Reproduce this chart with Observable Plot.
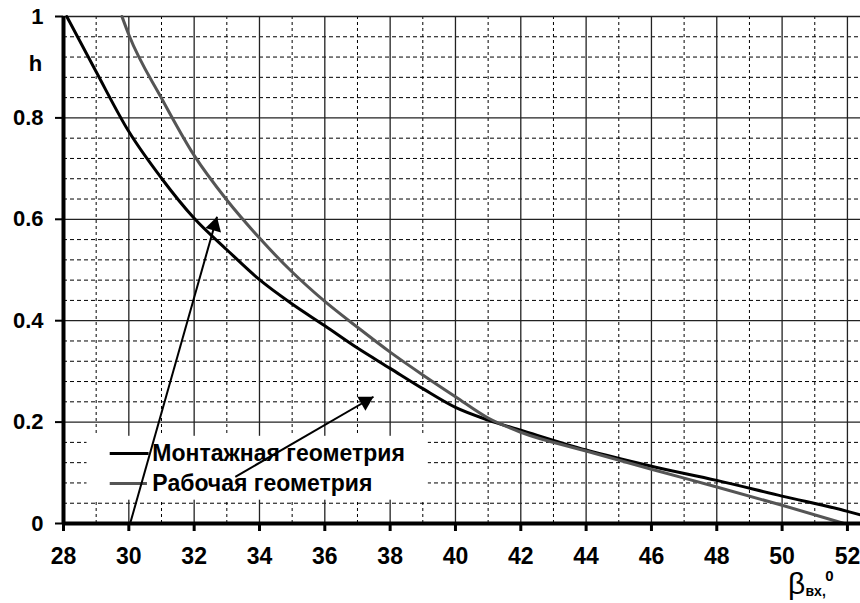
<!DOCTYPE html>
<html><head><meta charset="utf-8">
<script src="https://cdn.jsdelivr.net/npm/d3@7"></script>
<script src="https://cdn.jsdelivr.net/npm/@observablehq/plot@0.6"></script>
<style>html,body{margin:0;padding:0;background:#fff}</style>
</head><body><div id="chart"></div>
<script>
// Data
const montX = [28.1, 29, 30, 31, 32, 33, 34, 35, 36, 37, 38, 39, 40, 41, 42, 44, 46, 48, 50, 52, 52.4];
const montY = [1.0, 0.891, 0.773, 0.681, 0.602, 0.540, 0.481, 0.433, 0.390, 0.346, 0.306, 0.266, 0.229, 0.204, 0.184, 0.145, 0.113, 0.085, 0.054, 0.024, 0.017];
const workX = [29.79, 30, 31, 32, 33, 34, 35, 36, 37, 38, 39, 40, 41, 42, 44, 46, 48, 50, 51.9];
const workY = [1.0, 0.964, 0.839, 0.726, 0.638, 0.563, 0.496, 0.438, 0.387, 0.338, 0.293, 0.25, 0.208, 0.18, 0.143, 0.107, 0.072, 0.036, 0.0];
const seriesNames = ["Монтажная геометрия", "Рабочая геометрия"];
const xTicks = [28, 30, 32, 34, 36, 38, 40, 42, 44, 46, 48, 50, 52];
const xMinor = [29, 31, 33, 35, 37, 39, 41, 43, 45, 47, 49, 51];
const yTicks = [0, 0.2, 0.4, 0.6, 0.8, 1];
const yTickLabels = ["0", "0.2", "0.4", "0.6", "0.8", "1"];
const yMinor = [0.04, 0.08, 0.12, 0.16, 0.24, 0.28, 0.32, 0.36, 0.44, 0.48, 0.52, 0.56, 0.64, 0.68, 0.72, 0.76, 0.84, 0.88, 0.92, 0.96];
// annotation arrows: [x0, y0, x1(tip), y1(tip)]
const arrows = [[30.04, 0, 32.7, 0.605], [33.26, 0.092, 37.49, 0.25]];

const W = 860, H = 603, mL = 63, mR = 0, mT = 16, mB = 80;
const xDom = [28, 52.4], yDom = [0, 1];
const kx = (W - mL - mR) / (xDom[1] - xDom[0]);
const ky = (H - mT - mB) / (yDom[1] - yDom[0]);

const mont = montX.map((x, i) => ({x, y: montY[i]}));
const work = workX.map((x, i) => ({x, y: workY[i]}));
const arrowData = arrows.map(([x0, y0, x1, y1]) => ({x0, y0, x1, y1}));
const yLab = yTicks.map((y, i) => ({y, t: yTickLabels[i]}));

function head(a, r) {
  const px = (a.x1 - a.x0) * kx, py = -(a.y1 - a.y0) * ky;
  const L = Math.hypot(px, py), ux = px / L, uy = py / L;
  const ang = Math.atan2(ux, -uy) * 180 / Math.PI;
  const off = 1.555 * r;
  return Plot.dot([a], {x: "x1", y: "y1", symbol: "triangle", r, fill: "#000", stroke: "none",
    rotate: ang, dx: -ux * off, dy: -uy * off});
}

const font = "'Liberation Sans', Arial, Helvetica, sans-serif";
const chart = Plot.plot({
  width: W, height: H,
  marginLeft: mL, marginRight: mR, marginTop: mT, marginBottom: mB,
  x: {domain: xDom},
  y: {domain: yDom},
  style: {fontFamily: font, fontWeight: "bold", background: "#fff", color: "#000", overflow: "visible"},
  marks: [
    Plot.ruleX(xMinor, {stroke: "#000", strokeWidth: 1, strokeDasharray: "3,3"}),
    Plot.ruleY(yMinor, {stroke: "#000", strokeWidth: 1, strokeDasharray: "4,3"}),
    Plot.ruleX(xTicks, {stroke: "#222", strokeWidth: 1.3}),
    Plot.ruleY(yTicks, {stroke: "#222", strokeWidth: 1.3}),
    // legend box
    Plot.rect([{}], {x1: 28.72, x2: 39.17, y1: 0.046, y2: 0.172, fill: "#fff"}),
    Plot.line(mont, {x: "x", y: "y", stroke: "#000", strokeWidth: 3, curve: "monotone-x"}),
    Plot.line(work, {x: "x", y: "y", stroke: "#555", strokeWidth: 3, curve: "monotone-x"}),
    // legend
    Plot.ruleY([0.138], {x1: 29.43, x2: 30.62, stroke: "#000", strokeWidth: 3}),
    Plot.ruleY([0.079], {x1: 29.43, x2: 30.57, stroke: "#555", strokeWidth: 3}),
    Plot.text([seriesNames[0]], {x: 30.72, y: 0.138, textAnchor: "start", lineAnchor: "middle", fontSize: 23, fontWeight: "bold"}),
    Plot.text([seriesNames[1]], {x: 30.72, y: 0.079, textAnchor: "start", lineAnchor: "middle", fontSize: 23, fontWeight: "bold"}),
    // arrows
    Plot.link(arrowData, {x1: "x0", y1: "y0", x2: "x1", y2: "y1", stroke: "#000", strokeWidth: 2}),
    head(arrowData[0], 6),
    head(arrowData[1], 6),
    // axis lines
    Plot.ruleX([28], {stroke: "#000", strokeWidth: 4}),
    Plot.ruleY([0], {stroke: "#000", strokeWidth: 4}),
    Plot.axisX(xTicks, {tickSize: 8, strokeWidth: 3, label: null, tickFormat: () => ""}),
    Plot.axisY(yTicks, {tickSize: 8, strokeWidth: 2, label: null, tickFormat: () => ""}),
    Plot.text(xTicks, {x: d => d, text: d => String(d), frameAnchor: "bottom", lineAnchor: "top", dy: 24, fontSize: 23, fontWeight: "bold"}),
    Plot.text(yLab, {y: "y", text: "t", frameAnchor: "left", textAnchor: "end", lineAnchor: "middle", dx: -20, fontSize: 22, fontWeight: "bold"}),
    // axis titles
    Plot.text(["h"], {frameAnchor: "top-left", dx: -28, dy: 47, fontSize: 22, fontWeight: "bold", textAnchor: "middle", lineAnchor: "middle"}),
    Plot.text(["β"], {frameAnchor: "bottom-right", dx: -64, dy: 61, fontSize: 30, fontWeight: "normal", textAnchor: "middle", lineAnchor: "middle"}),
    Plot.text(["вх,"], {frameAnchor: "bottom-right", dx: -55, dy: 68, fontSize: 14, fontWeight: "bold", textAnchor: "start", lineAnchor: "middle"}),
    Plot.text(["0"], {frameAnchor: "bottom-right", dx: -31, dy: 53, fontSize: 15, fontWeight: "bold", textAnchor: "middle", lineAnchor: "middle"})
  ]
});
document.getElementById("chart").append(chart);
</script>
</body></html>
